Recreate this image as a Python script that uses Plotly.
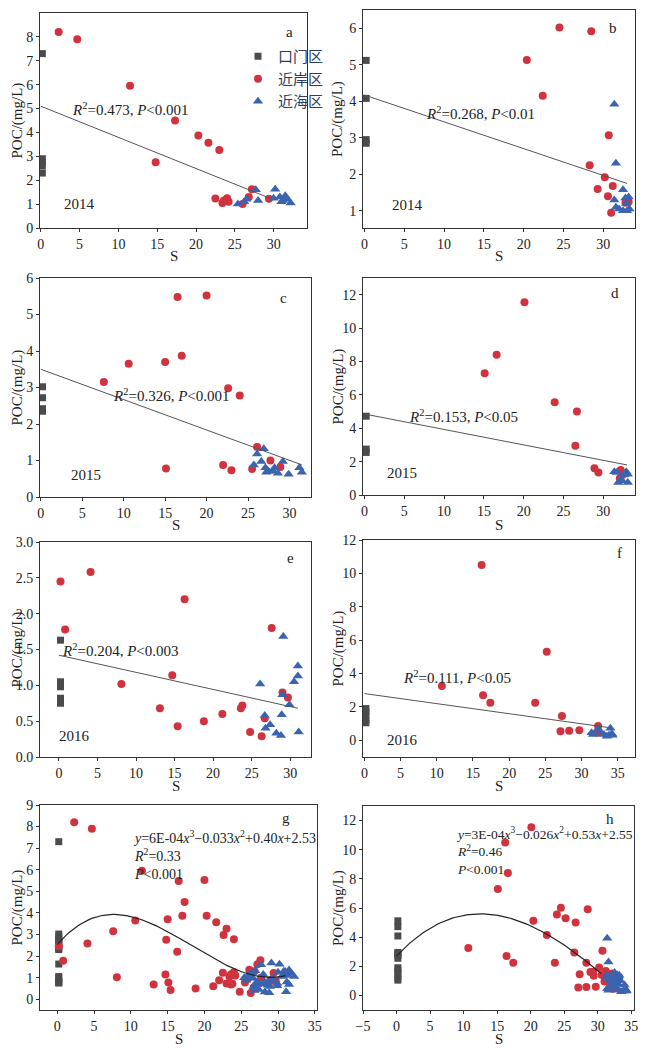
import numpy as np
import plotly.graph_objects as go

# ---- data: salinity S and POC (mg/L) per zone, per panel ----
# a: 2014
a_sq_y = [7.3, 2.9, 2.75, 2.6, 2.3]
a_ci_x = [2.3, 4.7, 11.5, 14.8, 17.3, 20.3, 21.6, 23.0, 22.5, 23.4, 23.6, 24.0, 24.2, 26.8, 27.2, 29.4, 26.0]
a_ci_y = [8.2, 7.9, 5.95, 2.75, 4.5, 3.87, 3.57, 3.27, 1.23, 1.05, 1.15, 1.25, 1.1, 1.3, 1.62, 1.22, 1.0]
a_tr_x = [25.4, 26.2, 26.5, 27.7, 28.0, 30.0, 30.2, 30.8, 31.2, 31.5, 31.8, 32.2, 31.0]
a_tr_y = [1.0, 1.1, 1.2, 1.6, 1.15, 1.25, 1.62, 1.3, 1.15, 1.35, 1.2, 1.05, 1.1]
# b: 2014
b_sq_y = [5.12, 4.08, 2.95, 2.85]
b_ci_x = [20.4, 22.4, 24.5, 28.5, 28.3, 30.7, 30.2, 31.2, 29.3, 30.6, 31.0, 32.8, 33.2]
b_ci_y = [5.13, 4.15, 6.02, 5.92, 2.25, 3.07, 1.92, 1.68, 1.6, 1.4, 0.95, 1.22, 1.25]
b_tr_x = [31.4, 31.6, 32.5, 31.4, 31.6, 32.0, 32.5, 32.8, 33.0, 33.2, 33.3, 32.9]
b_tr_y = [3.92, 2.3, 1.58, 1.3, 1.1, 1.05, 1.0, 1.35, 1.0, 1.38, 1.05, 1.2]
# c: 2015
c_sq_y = [3.02, 2.72, 2.42, 2.35]
c_ci_x = [7.6, 10.6, 15.0, 17.0, 16.5, 20.0, 22.6, 24.0, 15.1, 22.0, 23.0, 25.5, 26.1, 27.7, 28.9]
c_ci_y = [3.15, 3.65, 3.7, 3.87, 5.48, 5.52, 2.98, 2.78, 0.78, 0.88, 0.73, 0.77, 1.37, 1.0, 0.82]
c_tr_x = [25.7, 26.1, 26.6, 26.9, 27.1, 27.2, 28.0, 28.2, 28.6, 29.2, 29.9, 31.2, 31.5, 27.5]
c_tr_y = [0.88, 1.18, 0.97, 1.32, 0.8, 0.68, 0.72, 0.8, 0.65, 0.97, 0.62, 0.8, 0.68, 0.7]
# d: 2015
d_sq_y = [4.72, 2.75, 2.55]
d_ci_x = [15.1, 16.6, 20.1, 23.9, 26.7, 26.5, 28.9, 29.4, 32.2, 32.4, 32.1]
d_ci_y = [7.3, 8.4, 11.55, 5.55, 5.0, 2.95, 1.6, 1.35, 1.5, 1.2, 1.0]
d_tr_x = [31.4, 31.7, 31.9, 32.2, 32.6, 32.9, 33.1, 33.1, 32.4]
d_tr_y = [1.4, 1.35, 0.75, 0.9, 1.2, 1.4, 1.25, 0.75, 0.85]
# e: 2016
e_sq_y = [1.63, 1.05, 0.98, 0.82, 0.78, 0.75]
e_ci_x = [0.2, 4.1, 0.8, 8.1, 13.1, 14.7, 15.4, 16.3, 18.8, 21.2, 23.6, 23.8, 24.8, 26.3, 26.7, 27.6, 29.0, 29.7]
e_ci_y = [2.45, 2.58, 1.78, 1.02, 0.68, 1.14, 0.43, 2.2, 0.5, 0.6, 0.68, 0.72, 0.35, 0.29, 0.54, 1.8, 0.9, 0.83]
e_tr_x = [26.1, 26.7, 26.8, 27.4, 28.2, 28.8, 28.9, 29.0, 29.1, 29.9, 30.5, 31.0, 31.0, 31.1]
e_tr_y = [1.02, 0.58, 0.4, 0.45, 0.33, 0.3, 0.59, 0.87, 1.68, 0.73, 1.05, 1.27, 1.13, 0.35]
# f: 2016
f_sq_y = [1.9, 1.7, 1.5, 1.2, 1.05]
f_ci_x = [10.7, 16.2, 16.4, 17.4, 23.6, 25.2, 27.1, 27.3, 28.3, 29.7, 32.3, 32.2]
f_ci_y = [3.25, 10.5, 2.7, 2.25, 2.25, 5.3, 0.55, 1.45, 0.57, 0.6, 0.85, 0.45]
f_tr_x = [31.4, 31.6, 32.3, 32.6, 33.1, 33.5, 34.0, 34.2, 33.8, 34.3]
f_tr_y = [0.45, 0.35, 0.7, 0.5, 0.35, 0.25, 0.72, 0.4, 0.3, 0.3]

# linear fit end points (S, POC)
lin_fits = {
    "a": ([0, 29.5], [5.1, 1.25]),
    "b": ([0, 33], [4.17, 1.75]),
    "c": ([0, 31.5], [3.5, 0.88]),
    "d": ([0, 33], [4.85, 1.8]),
    "e": ([0, 31], [1.42, 0.68]),
    "f": ([0, 34], [2.8, 0.75]),
}

panels = {
    "a": (a_sq_y, a_ci_x, a_ci_y, a_tr_x, a_tr_y),
    "b": (b_sq_y, b_ci_x, b_ci_y, b_tr_x, b_tr_y),
    "c": (c_sq_y, c_ci_x, c_ci_y, c_tr_x, c_tr_y),
    "d": (d_sq_y, d_ci_x, d_ci_y, d_tr_x, d_tr_y),
    "e": (e_sq_y, e_ci_x, e_ci_y, e_tr_x, e_tr_y),
    "f": (f_sq_y, f_ci_x, f_ci_y, f_tr_x, f_tr_y),
}
# g = a+c+e, h = b+d+f
for new, parts in (("g", "ace"), ("h", "bdf")):
    panels[new] = tuple(sum((panels[p][i] for p in parts), []) for i in range(5))

# page has an 8px body margin, so the figure is drawn 8px in from the top-left
OFF = 8
W, H = 647 - OFF, 1048 - OFF
# pixel boxes in the page: left, right, top, bottom
boxes = {
    "a": (40, 307, 13, 228), "b": (363, 635, 10, 228),
    "c": (40, 311, 278, 497), "d": (363, 635, 278, 495),
    "e": (40, 311, 542, 757), "f": (363, 635, 540, 757),
    "g": (40, 317, 805, 1010), "h": (363, 634, 806, 1010),
}
# page y of the "S" axis titles, page x of the POC titles
s_title_y = {"a": 256, "b": 256, "c": 525, "d": 525, "e": 786, "f": 786, "g": 1039, "h": 1039}
poc_title_x = {"a": 17, "c": 17, "e": 17, "g": 17, "b": 338, "d": 338, "f": 338, "h": 338}

xr = {"a": [-0.1, 34.3], "b": [-0.2, 34], "c": [-0.1, 32.6], "d": [-0.2, 34],
      "e": [-2.46, 32.7], "f": [-0.2, 37.4], "g": [-2.35, 35.3], "h": [-5, 35.4]}
yr = {"a": [0, 9], "b": [0.53, 6.5], "c": [0, 6], "d": [0, 13],
      "e": [0, 3], "f": [-1, 12], "g": [-0.5, 9], "h": [-1, 13]}
yt = {"a": list(range(0, 9)), "b": list(range(1, 7)), "c": list(range(0, 7)),
      "d": list(range(0, 13, 2)), "e": [0, 0.5, 1, 1.5, 2, 2.5, 3],
      "f": list(range(0, 13, 2)), "g": list(range(0, 10)), "h": list(range(0, 13, 2))}

SQ, CI, TR = "#4b4b4b", "#d0333d", "#3a63b0"
FONT = "Liberation Serif, Noto Sans CJK SC"

fig = go.Figure()
ann = []
for i, k in enumerate("abcdefgh"):
    n = "" if i == 0 else str(i + 1)
    xa, ya = "x" + n, "y" + n
    sq_y, ci_x, ci_y, tr_x, tr_y = panels[k]
    show = k == "a"
    fig.add_trace(go.Scatter(x=[0.2] * len(sq_y), y=sq_y, mode="markers", name="口门区",
                             marker=dict(symbol="square", size=7, color=SQ),
                             xaxis=xa, yaxis=ya, showlegend=show))
    fig.add_trace(go.Scatter(x=ci_x, y=ci_y, mode="markers", name="近岸区",
                             marker=dict(symbol="circle", size=8, color=CI),
                             xaxis=xa, yaxis=ya, showlegend=show))
    fig.add_trace(go.Scatter(x=tr_x, y=tr_y, mode="markers", name="近海区",
                             marker=dict(symbol="triangle-up", size=9, color=TR),
                             xaxis=xa, yaxis=ya, showlegend=show))
    if k in lin_fits:
        lx, ly = lin_fits[k]
        fig.add_trace(go.Scatter(x=lx, y=ly, mode="lines", line=dict(color="#555", width=1),
                                 xaxis=xa, yaxis=ya, showlegend=False))
    l, r, t, b = [v - OFF for v in boxes[k]]
    common = dict(showline=True, mirror=True, linecolor="#333", linewidth=1,
                  ticks="outside", ticklen=3, tickcolor="#333", showgrid=False,
                  zeroline=False, automargin=False,
                  tickfont=dict(size=14, family=FONT, color="#222"))
    fig.update_layout(**{
        "xaxis" + n: dict(domain=[l / W, r / W], range=xr[k], dtick=5, anchor=ya, **common),
        "yaxis" + n: dict(domain=[1 - b / H, 1 - t / H], range=yr[k], tickvals=yt[k],
                          tickformat=".1f" if k == "e" else "", anchor=xa, **common),
    })
    # axis titles as paper annotations
    ann.append(dict(x=(l + r) / 2 / W, y=1 - (s_title_y[k] - OFF) / H, xref="paper", yref="paper",
                    xanchor="center", yanchor="middle", text="S", showarrow=False,
                    font=dict(size=15, family=FONT, color="#222")))
    ann.append(dict(x=(poc_title_x[k] - OFF) / W, y=1 - (t + b) / 2 / H, xref="paper", yref="paper",
                    xanchor="center", yanchor="middle", text="POC/(mg/L)", textangle=-90,
                    showarrow=False, font=dict(size=15, family=FONT, color="#222")))

# cubic fits for g and h
gx = np.linspace(0, 31, 100)
fig.add_trace(go.Scatter(x=gx, y=6e-4 * gx**3 - 0.033 * gx**2 + 0.40 * gx + 2.53, mode="lines",
                         line=dict(color="#222", width=1.2), xaxis="x7", yaxis="y7",
                         showlegend=False))
# curve for h matched to the drawn shape: y(0)=2.7, max 5.6 at S=12.5, y(30.5)=1.5
A = np.array([[12.5**3, 12.5**2, 12.5], [3 * 12.5**2, 2 * 12.5, 1], [30.5**3, 30.5**2, 30.5]])
ca, cb, cc = np.linalg.solve(A, [2.9, 0, -1.2])
hx = np.linspace(0, 30.5, 100)
fig.add_trace(go.Scatter(x=hx, y=ca * hx**3 + cb * hx**2 + cc * hx + 2.7, mode="lines",
                         line=dict(color="#222", width=1.2), xaxis="x8", yaxis="y8",
                         showlegend=False))


def note(k, x, y, text, size=15, **kw):
    i = "abcdefgh".index(k)
    n = "" if i == 0 else str(i + 1)
    ann.append(dict(x=x, y=y, xref="x" + n, yref="y" + n, text=text, showarrow=False,
                    font=dict(size=size, family=FONT, color="#222"), **kw))


letters = {"a": (32.1, 8.2), "b": (31.2, 6.0), "c": (29.3, 5.45), "d": (31.5, 12.1),
           "e": (30, 2.78), "f": (35.3, 11.2), "g": (31.1, 8.4), "h": (31.8, 12.1)}
for k, (x, y) in letters.items():
    note(k, x, y, k)
for k, x, y, yr_ in (("a", 5, 1.0, "2014"), ("b", 5.4, 1.15, "2014"), ("c", 5.5, 0.6, "2015"),
                     ("d", 4.7, 1.3, "2015"), ("e", 2.0, 0.3, "2016"), ("f", 5.2, 0.0, "2016")):
    note(k, x, y, yr_)
for k, x, y, t in (("a", 11.6, 5.0, "0.473, <i>P</i><0.001"), ("b", 14.6, 3.67, "0.268, <i>P</i><0.01"),
                   ("c", 15.8, 2.8, "0.326, <i>P</i><0.001"), ("d", 12.4, 4.75, "0.153, <i>P</i><0.05"),
                   ("e", 8.0, 1.5, "0.204, <i>P</i><0.003"), ("f", 12.8, 3.8, "0.111, <i>P</i><0.05")):
    note(k, x, y, "<i>R</i><sup>2</sup>=" + t)
note("g", 10.0, 8.05, "<i>y</i>=6E-04<i>x</i><sup>3</sup>−0.033<i>x</i><sup>2</sup>+0.40<i>x</i>+2.53<br>"
     "<i>R</i><sup>2</sup>=0.33<br><i>P</i><0.001", size=14, xanchor="left", yanchor="top", align="left")
note("h", 8.6, 11.8, "<i>y</i>=3E-04<i>x</i><sup>3</sup>−0.026<i>x</i><sup>2</sup>+0.53<i>x</i>+2.55<br>"
     "<i>R</i><sup>2</sup>=0.46<br><i>P</i><0.001", size=13.5, xanchor="left", yanchor="top", align="left")

fig.update_layout(
    width=W, height=H, margin=dict(l=0, r=0, t=0, b=0),
    paper_bgcolor="white", plot_bgcolor="white", annotations=ann,
    legend=dict(x=(238 - OFF) / W, y=1 - (40 - OFF) / H, xanchor="left", yanchor="top",
                bgcolor="rgba(0,0,0,0)", font=dict(size=15, family=FONT),
                itemwidth=30, tracegroupgap=0),
)
fig.write_html("out.html")
